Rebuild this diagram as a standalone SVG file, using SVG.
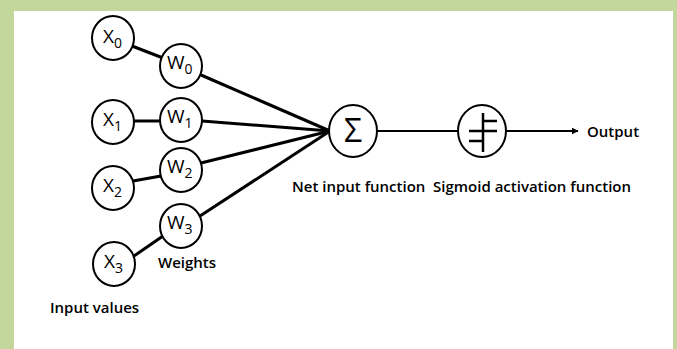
<svg xmlns="http://www.w3.org/2000/svg" width="677" height="349" viewBox="0 0 677 349">
  <defs>
    <marker id="arrow" viewBox="0 0 10 10" refX="9" refY="5" markerWidth="7" markerHeight="7" markerUnits="userSpaceOnUse" orient="auto">
      <path d="M0,0 L10,5 L0,10 z" fill="#000"/>
    </marker>
    <style>
      .node { fill: #fff; stroke: #000; stroke-width: 2; }
      .lbl { font-family: "Open Sans", "Liberation Sans", sans-serif; font-size: 19px; fill: #000; }
      .sub { font-size: 14px; }
      .sigma { font-family: "Open Sans", "Liberation Sans", sans-serif; font-size: 32px; fill: #000; }
      .cap { font-family: "Open Sans", "Liberation Sans", sans-serif; font-size: 15px; font-weight: 600; fill: #000; }
      .edge { stroke: #000; stroke-width: 3; fill: none; }
      .thin { stroke: #000; stroke-width: 2; fill: none; }
      .glyph { stroke: #000; stroke-width: 2.5; fill: none; }
    </style>
  </defs>

  <!-- frame -->
  <rect x="0" y="0" width="677" height="349" fill="#c3d69b"/>
  <rect x="14" y="11" width="659" height="338" fill="#fff"/>

  <!-- connectors -->
  <g id="connectors">
    <line class="edge" x1="132" y1="46" x2="163" y2="58"/>
    <line class="edge" x1="134" y1="121" x2="160" y2="121"/>
    <line class="edge" x1="133" y1="181" x2="161" y2="176"/>
    <line class="edge" x1="134" y1="256" x2="163" y2="236"/>
    <line class="edge" x1="201" y1="75" x2="330" y2="131"/>
    <line class="edge" x1="202" y1="121" x2="330" y2="131"/>
    <line class="edge" x1="201" y1="163" x2="330" y2="131"/>
    <line class="edge" x1="200" y1="216" x2="330" y2="131"/>
    <line class="thin" x1="377" y1="131" x2="458" y2="131"/>
    <line class="thin" x1="506" y1="131" x2="578" y2="131" marker-end="url(#arrow)"/>
  </g>

  <!-- input values -->
  <g id="x0">
    <ellipse class="node" cx="113" cy="38" rx="21" ry="22"/>
    <text class="lbl" x="103" y="43">X<tspan class="sub" dy="5">0</tspan></text>
  </g>
  <g id="x1">
    <ellipse class="node" cx="113" cy="122" rx="21" ry="22"/>
    <text class="lbl" x="103" y="126">X<tspan class="sub" dy="5">1</tspan></text>
  </g>
  <g id="x2">
    <ellipse class="node" cx="113" cy="188" rx="21" ry="22"/>
    <text class="lbl" x="103" y="192">X<tspan class="sub" dy="5">2</tspan></text>
  </g>
  <g id="x3">
    <ellipse class="node" cx="114" cy="264" rx="21" ry="22"/>
    <text class="lbl" x="104" y="268">X<tspan class="sub" dy="5">3</tspan></text>
  </g>

  <!-- weights -->
  <g id="w0">
    <ellipse class="node" cx="181" cy="66" rx="21" ry="22"/>
    <text class="lbl" x="167" y="69">W<tspan class="sub" dy="5">0</tspan></text>
  </g>
  <g id="w1">
    <ellipse class="node" cx="181" cy="120" rx="21" ry="22"/>
    <text class="lbl" x="167" y="123">W<tspan class="sub" dy="5">1</tspan></text>
  </g>
  <g id="w2">
    <ellipse class="node" cx="181" cy="170" rx="21" ry="22"/>
    <text class="lbl" x="167" y="173">W<tspan class="sub" dy="5">2</tspan></text>
  </g>
  <g id="w3">
    <ellipse class="node" cx="181" cy="226" rx="21" ry="22"/>
    <text class="lbl" x="167" y="229">W<tspan class="sub" dy="5">3</tspan></text>
  </g>

  <!-- net input function -->
  <g id="sum">
    <ellipse class="node" cx="353" cy="131" rx="24" ry="26"/>
    <text class="sigma" x="353" y="142" text-anchor="middle">Σ</text>
  </g>

  <!-- sigmoid activation -->
  <g id="sigmoid">
    <ellipse class="node" cx="482" cy="131" rx="24" ry="26"/>
    <path class="glyph" d="M483,113 V152 M483,121 H497 M469,131 H497 M469,141 H483"/>
  </g>

  <!-- captions -->
  <g id="captions">
    <text class="cap" x="587" y="137">Output</text>
    <text class="cap" x="292" y="192">Net input function</text>
    <text class="cap" x="433" y="192">Sigmoid activation function</text>
    <text class="cap" x="158" y="268">Weights</text>
    <text class="cap" x="50" y="313">Input values</text>
  </g>
</svg>
